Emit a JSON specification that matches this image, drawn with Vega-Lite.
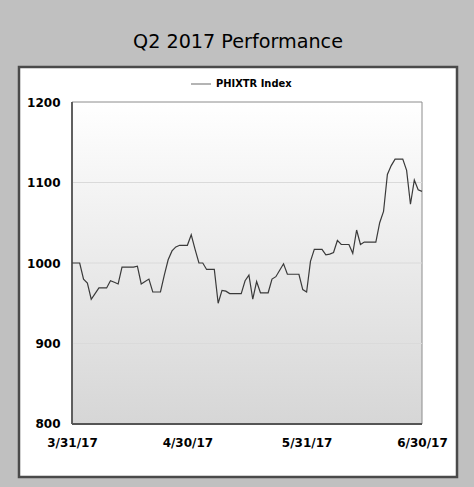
{
  "$schema": "https://vega.github.io/schema/vega-lite/v6.json",
  "width": 438,
  "height": 410,
  "autosize": {"type": "none"},
  "padding": {"left": 19, "top": 67, "right": 17, "bottom": 10},
  "background": "#c0c0c0",
  "config": {
    "view": {"fill": "#ffffff", "stroke": "#4a4a4a", "strokeWidth": 2.5},
    "font": "DejaVu Sans"
  },
  "title": {
    "text": "Q2 2017 Performance",
    "font": "DejaVu Sans",
    "fontSize": 19.2,
    "fontWeight": "normal",
    "color": "#000000",
    "anchor": "middle",
    "baseline": "bottom",
    "offset": -4
  },
  "datasets": {
    "frame": [{"date": "2017-03-31", "end": "2017-06-30", "value": 800, "high": 1200}],
    "grid": [
      {"date": "2017-03-31", "end": "2017-06-30", "value": 900},
      {"date": "2017-03-31", "end": "2017-06-30", "value": 1000},
      {"date": "2017-03-31", "end": "2017-06-30", "value": 1100}
    ],
    "index": [
      {"date": "2017-03-31", "value": 1000, "series": "PHIXTR Index"},
      {"date": "2017-04-01", "value": 1000, "series": "PHIXTR Index"},
      {"date": "2017-04-02", "value": 1000, "series": "PHIXTR Index"},
      {"date": "2017-04-03", "value": 980, "series": "PHIXTR Index"},
      {"date": "2017-04-04", "value": 975, "series": "PHIXTR Index"},
      {"date": "2017-04-05", "value": 955, "series": "PHIXTR Index"},
      {"date": "2017-04-06", "value": 962, "series": "PHIXTR Index"},
      {"date": "2017-04-07", "value": 969, "series": "PHIXTR Index"},
      {"date": "2017-04-08", "value": 969, "series": "PHIXTR Index"},
      {"date": "2017-04-09", "value": 969, "series": "PHIXTR Index"},
      {"date": "2017-04-10", "value": 978, "series": "PHIXTR Index"},
      {"date": "2017-04-11", "value": 976, "series": "PHIXTR Index"},
      {"date": "2017-04-12", "value": 974, "series": "PHIXTR Index"},
      {"date": "2017-04-13", "value": 995, "series": "PHIXTR Index"},
      {"date": "2017-04-14", "value": 995, "series": "PHIXTR Index"},
      {"date": "2017-04-15", "value": 995, "series": "PHIXTR Index"},
      {"date": "2017-04-16", "value": 995, "series": "PHIXTR Index"},
      {"date": "2017-04-17", "value": 996, "series": "PHIXTR Index"},
      {"date": "2017-04-18", "value": 974, "series": "PHIXTR Index"},
      {"date": "2017-04-19", "value": 977, "series": "PHIXTR Index"},
      {"date": "2017-04-20", "value": 980, "series": "PHIXTR Index"},
      {"date": "2017-04-21", "value": 964, "series": "PHIXTR Index"},
      {"date": "2017-04-22", "value": 964, "series": "PHIXTR Index"},
      {"date": "2017-04-23", "value": 964, "series": "PHIXTR Index"},
      {"date": "2017-04-24", "value": 985, "series": "PHIXTR Index"},
      {"date": "2017-04-25", "value": 1004, "series": "PHIXTR Index"},
      {"date": "2017-04-26", "value": 1015, "series": "PHIXTR Index"},
      {"date": "2017-04-27", "value": 1020, "series": "PHIXTR Index"},
      {"date": "2017-04-28", "value": 1022, "series": "PHIXTR Index"},
      {"date": "2017-04-29", "value": 1022, "series": "PHIXTR Index"},
      {"date": "2017-04-30", "value": 1022, "series": "PHIXTR Index"},
      {"date": "2017-05-01", "value": 1035, "series": "PHIXTR Index"},
      {"date": "2017-05-02", "value": 1017, "series": "PHIXTR Index"},
      {"date": "2017-05-03", "value": 1000, "series": "PHIXTR Index"},
      {"date": "2017-05-04", "value": 1000, "series": "PHIXTR Index"},
      {"date": "2017-05-05", "value": 992, "series": "PHIXTR Index"},
      {"date": "2017-05-06", "value": 992, "series": "PHIXTR Index"},
      {"date": "2017-05-07", "value": 992, "series": "PHIXTR Index"},
      {"date": "2017-05-08", "value": 950, "series": "PHIXTR Index"},
      {"date": "2017-05-09", "value": 966, "series": "PHIXTR Index"},
      {"date": "2017-05-10", "value": 965, "series": "PHIXTR Index"},
      {"date": "2017-05-11", "value": 962, "series": "PHIXTR Index"},
      {"date": "2017-05-12", "value": 962, "series": "PHIXTR Index"},
      {"date": "2017-05-13", "value": 962, "series": "PHIXTR Index"},
      {"date": "2017-05-14", "value": 962, "series": "PHIXTR Index"},
      {"date": "2017-05-15", "value": 978, "series": "PHIXTR Index"},
      {"date": "2017-05-16", "value": 985, "series": "PHIXTR Index"},
      {"date": "2017-05-17", "value": 955, "series": "PHIXTR Index"},
      {"date": "2017-05-18", "value": 977, "series": "PHIXTR Index"},
      {"date": "2017-05-19", "value": 963, "series": "PHIXTR Index"},
      {"date": "2017-05-20", "value": 963, "series": "PHIXTR Index"},
      {"date": "2017-05-21", "value": 963, "series": "PHIXTR Index"},
      {"date": "2017-05-22", "value": 980, "series": "PHIXTR Index"},
      {"date": "2017-05-23", "value": 983, "series": "PHIXTR Index"},
      {"date": "2017-05-24", "value": 991, "series": "PHIXTR Index"},
      {"date": "2017-05-25", "value": 999, "series": "PHIXTR Index"},
      {"date": "2017-05-26", "value": 986, "series": "PHIXTR Index"},
      {"date": "2017-05-27", "value": 986, "series": "PHIXTR Index"},
      {"date": "2017-05-28", "value": 986, "series": "PHIXTR Index"},
      {"date": "2017-05-29", "value": 986, "series": "PHIXTR Index"},
      {"date": "2017-05-30", "value": 967, "series": "PHIXTR Index"},
      {"date": "2017-05-31", "value": 964, "series": "PHIXTR Index"},
      {"date": "2017-06-01", "value": 1002, "series": "PHIXTR Index"},
      {"date": "2017-06-02", "value": 1017, "series": "PHIXTR Index"},
      {"date": "2017-06-03", "value": 1017, "series": "PHIXTR Index"},
      {"date": "2017-06-04", "value": 1017, "series": "PHIXTR Index"},
      {"date": "2017-06-05", "value": 1010, "series": "PHIXTR Index"},
      {"date": "2017-06-06", "value": 1011, "series": "PHIXTR Index"},
      {"date": "2017-06-07", "value": 1013, "series": "PHIXTR Index"},
      {"date": "2017-06-08", "value": 1028, "series": "PHIXTR Index"},
      {"date": "2017-06-09", "value": 1023, "series": "PHIXTR Index"},
      {"date": "2017-06-10", "value": 1023, "series": "PHIXTR Index"},
      {"date": "2017-06-11", "value": 1023, "series": "PHIXTR Index"},
      {"date": "2017-06-12", "value": 1012, "series": "PHIXTR Index"},
      {"date": "2017-06-13", "value": 1041, "series": "PHIXTR Index"},
      {"date": "2017-06-14", "value": 1023, "series": "PHIXTR Index"},
      {"date": "2017-06-15", "value": 1026, "series": "PHIXTR Index"},
      {"date": "2017-06-16", "value": 1026, "series": "PHIXTR Index"},
      {"date": "2017-06-17", "value": 1026, "series": "PHIXTR Index"},
      {"date": "2017-06-18", "value": 1026, "series": "PHIXTR Index"},
      {"date": "2017-06-19", "value": 1050, "series": "PHIXTR Index"},
      {"date": "2017-06-20", "value": 1064, "series": "PHIXTR Index"},
      {"date": "2017-06-21", "value": 1110, "series": "PHIXTR Index"},
      {"date": "2017-06-22", "value": 1121, "series": "PHIXTR Index"},
      {"date": "2017-06-23", "value": 1129, "series": "PHIXTR Index"},
      {"date": "2017-06-24", "value": 1129, "series": "PHIXTR Index"},
      {"date": "2017-06-25", "value": 1129, "series": "PHIXTR Index"},
      {"date": "2017-06-26", "value": 1115, "series": "PHIXTR Index"},
      {"date": "2017-06-27", "value": 1073, "series": "PHIXTR Index"},
      {"date": "2017-06-28", "value": 1103, "series": "PHIXTR Index"},
      {"date": "2017-06-29", "value": 1091, "series": "PHIXTR Index"},
      {"date": "2017-06-30", "value": 1089, "series": "PHIXTR Index"}
    ]
  },
  "encoding": {
    "x": {
      "field": "date",
      "type": "temporal",
      "scale": {"type": "utc", "domain": [1489727808000, 1499567040000]},
      "axis": {
        "values": [1490918400000, 1493510400000, 1496188800000, 1498780800000],
        "format": "%-m/%-d/%y",
        "offset": -53,
        "domain": false,
        "ticks": false,
        "grid": false,
        "labelPadding": 13,
        "labelFlush": false,
        "labelOverlap": false,
        "labelFont": "DejaVu Sans",
        "labelFontSize": 12,
        "labelFontWeight": "bold",
        "labelColor": "#000000",
        "title": null
      }
    },
    "y": {
      "field": "value",
      "type": "quantitative",
      "scale": {"domain": [734.16, 1243.48], "nice": false, "zero": false},
      "axis": {
        "values": [800, 900, 1000, 1100, 1200],
        "format": "d",
        "offset": -53,
        "domain": false,
        "ticks": false,
        "grid": false,
        "labelPadding": 12,
        "labelFlush": false,
        "labelOverlap": false,
        "labelFont": "DejaVu Sans",
        "labelFontSize": 12,
        "labelFontWeight": "bold",
        "labelColor": "#000000",
        "title": null
      }
    }
  },
  "layer": [
    {
      "data": {"name": "frame"},
      "mark": {
        "type": "rect",
        "fill": {
          "gradient": "linear",
          "x1": 0, "y1": 0, "x2": 0, "y2": 1,
          "stops": [
            {"offset": 0, "color": "#ffffff"},
            {"offset": 1, "color": "#d6d6d6"}
          ]
        },
        "stroke": "#8c8c8c",
        "strokeWidth": 1
      },
      "encoding": {
        "x2": {"field": "end"},
        "y2": {"field": "high"}
      }
    },
    {
      "data": {"name": "grid"},
      "mark": {"type": "rule", "color": "#dadada", "strokeWidth": 1},
      "encoding": {
        "x2": {"field": "end"}
      }
    },
    {
      "data": {"name": "frame"},
      "mark": {"type": "rule", "color": "#555555", "strokeWidth": 1.8},
      "encoding": {
        "y2": {"field": "high"}
      }
    },
    {
      "data": {"name": "frame"},
      "mark": {"type": "rule", "color": "#555555", "strokeWidth": 2},
      "encoding": {
        "x2": {"field": "end"}
      }
    },
    {
      "data": {"name": "index"},
      "mark": {"type": "line", "strokeWidth": 1.2},
      "encoding": {
        "color": {
          "field": "series",
          "type": "nominal",
          "scale": {"range": ["#3a3a3a"]},
          "legend": {
            "orient": "none",
            "legendX": 171,
            "legendY": 6,
            "title": null,
            "direction": "horizontal",
            "symbolType": "stroke",
            "symbolSize": 400,
            "symbolStrokeWidth": 1.5,
            "symbolOpacity": 0.5,
            "labelFont": "DejaVu Sans Condensed",
            "labelFontSize": 11,
            "labelFontWeight": "bold",
            "labelColor": "#000000"
          }
        }
      }
    }
  ]
}
